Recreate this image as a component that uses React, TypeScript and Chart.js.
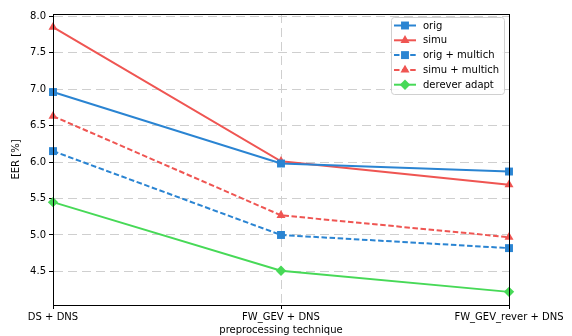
import React, { useEffect, useRef } from "react";
import { Chart, registerables } from "chart.js";
import { drawPoint } from "chart.js/helpers";

Chart.register(...registerables);

const categories = ["DS + DNS", "FW_GEV + DNS", "FW_GEV_rever + DNS"];
const orig = [6.96, 5.98, 5.87];
const simu = [7.85, 6.01, 5.69];
const origMultich = [6.15, 5.0, 4.82];
const simuMultich = [6.63, 5.27, 4.97];
const derever = [5.45, 4.51, 4.22];
const yTicks = [4.5, 5.0, 5.5, 6.0, 6.5, 7.0, 7.5, 8.0];

const BLUE = "#2a84d2";
const RED = "#ef5552";
const GREEN = "#47d957";
const FONT = "'DejaVu Sans', sans-serif";

const toXY = (arr: number[]) => arr.map((v, i) => ({ x: i, y: v }));

const boxPlugin = {
  id: "box",
  afterDatasetsDraw(chart: any) {
    const { ctx, chartArea } = chart;
    ctx.save();
    ctx.setLineDash([]);
    ctx.strokeStyle = "#000";
    ctx.lineWidth = 1;
    ctx.strokeRect(
      Math.round(chartArea.left) + 0.5,
      Math.round(chartArea.top) + 0.5,
      Math.round(chartArea.right - chartArea.left),
      Math.round(chartArea.bottom - chartArea.top)
    );
    ctx.restore();
  },
};

const legendPlugin = {
  id: "mplLegend",
  afterDraw(chart: any) {
    const { ctx, chartArea } = chart;
    const right = chartArea.right - 5;
    const left = right - 113;
    const top = chartArea.top + 3;
    const h = 77;
    ctx.save();
    ctx.setLineDash([]);
    ctx.fillStyle = "rgba(255,255,255,0.85)";
    ctx.strokeStyle = "#d0d0d0";
    ctx.lineWidth = 1;
    ctx.beginPath();
    (ctx as any).roundRect(left + 0.5, top + 0.5, right - left, h, 3);
    ctx.fill();
    ctx.stroke();
    ctx.font = `10px ${FONT}`;
    ctx.textBaseline = "middle";
    chart.data.datasets.forEach((ds: any, i: number) => {
      const y = top + 8.5 + i * 14.8;
      ctx.strokeStyle = ds.borderColor;
      ctx.lineWidth = ds.borderWidth;
      ctx.setLineDash(ds.borderDash || []);
      ctx.beginPath();
      ctx.moveTo(left + 3, y);
      ctx.lineTo(left + 25, y);
      ctx.stroke();
      ctx.setLineDash([]);
      ctx.fillStyle = ds.pointBackgroundColor;
      ctx.strokeStyle = ds.pointBorderColor;
      drawPoint(
        ctx,
        { pointStyle: ds.pointStyle, radius: ds.pointRadius, rotation: 0, borderWidth: 0 },
        left + 14,
        y
      );
      ctx.fillStyle = "#000";
      ctx.fillText(ds.label, left + 32, y + 0.5);
    });
    ctx.restore();
  },
};

export default function App() {
  const ref = useRef<HTMLCanvasElement>(null);
  useEffect(() => {
    if (!ref.current) return;
    const mk = (label: string, data: number[], color: string, style: string, dash: number[], r: number) => ({
      label,
      data: toXY(data),
      borderColor: color,
      backgroundColor: color,
      pointBackgroundColor: color,
      pointBorderColor: color,
      pointBorderWidth: 0,
      borderWidth: 2,
      borderDash: dash,
      pointStyle: style,
      pointRadius: r,
      pointHoverRadius: r,
      tension: 0,
    });
    const gridOpts = {
      color: "#cfcfcf",
      lineWidth: 1,
      tickColor: "#000",
      tickLength: 4,
      tickBorderDash: [],
    } as any;
    const borderOpts = { display: true, color: "#000", width: 1, dash: [9, 5] } as any;
    const chart = new Chart(ref.current, {
      type: "line",
      data: {
        datasets: [
          mk("orig", orig, BLUE, "rect", [], 5.6),
          mk("simu", simu, RED, "triangle", [], 5.2),
          mk("orig + multich", origMultich, BLUE, "rect", [5.5, 2.6], 5.6),
          mk("simu + multich", simuMultich, RED, "triangle", [5.5, 2.6], 5.2),
          mk("derever adapt", derever, GREEN, "rectRot", [], 5.2),
        ] as any,
      },
      options: {
        animation: false,
        responsive: false,
        clip: false as any,
        layout: { padding: { left: 0, right: 63, top: 14, bottom: 0 } },
        plugins: { legend: { display: false }, tooltip: { enabled: false } },
        scales: {
          x: {
            type: "linear",
            min: 0,
            max: 2,
            afterBuildTicks: (s: any) => {
              s.ticks = categories.map((_, i) => ({ value: i }));
            },
            afterFit: (s: any) => {
              s.height = 31;
            },
            ticks: {
              callback: (v: any) => categories[Math.round(Number(v))] ?? "",
              color: "#000",
              font: { family: FONT, size: 10 },
              padding: 2,
              maxRotation: 0,
              autoSkip: false,
            },
            grid: gridOpts,
            border: borderOpts,
            title: {
              display: true,
              text: "preprocessing technique",
              color: "#000",
              font: { family: FONT, size: 10 },
              padding: { top: 0, bottom: 0 },
            },
          },
          y: {
            type: "linear",
            min: 4.04,
            max: 8.03,
            afterBuildTicks: (s: any) => {
              s.ticks = yTicks.map((v) => ({ value: v }));
            },
            afterFit: (s: any) => {
              s.width = 53;
            },
            ticks: {
              callback: (v: any) => Number(v).toFixed(1),
              color: "#000",
              font: { family: FONT, size: 10 },
              padding: 3,
            },
            grid: gridOpts,
            border: borderOpts,
            title: {
              display: true,
              text: "EER [%]",
              color: "#000",
              font: { family: FONT, size: 10 },
              padding: { top: 10, bottom: 0 },
            },
          },
        },
      },
      plugins: [boxPlugin, legendPlugin],
    });
    return () => chart.destroy();
  }, []);
  return (
    <div style={{ position: "fixed", left: 0, top: 0, width: 572, height: 336, background: "#fff" }}>
      <canvas ref={ref} width={572} height={336} />
    </div>
  );
}
